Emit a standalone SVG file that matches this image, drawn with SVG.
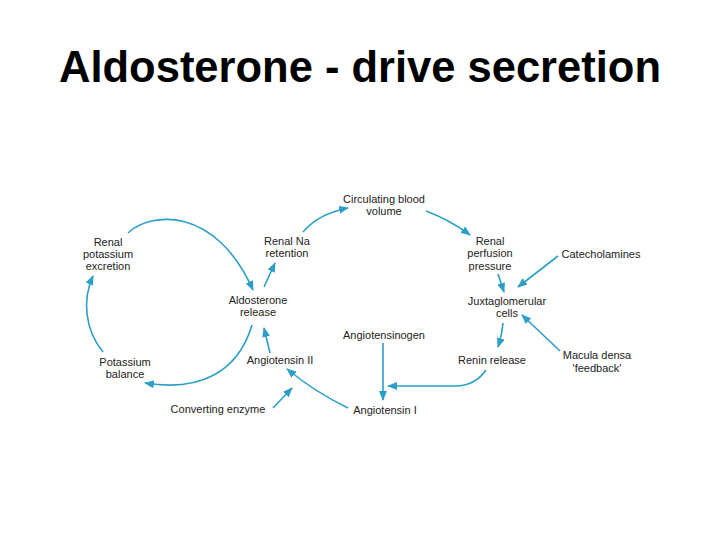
<svg xmlns="http://www.w3.org/2000/svg" width="720" height="540" viewBox="0 0 720 540">
<defs>
<style>
.t{font-family:"Liberation Sans",Arial,sans-serif;font-size:11px;fill:#222;text-anchor:middle}
.title{font-family:"Liberation Sans",Arial,sans-serif;font-size:43.5px;font-weight:bold;fill:#000;text-anchor:middle}
.c{fill:none;stroke:#2b9fc6;stroke-width:1.6;marker-end:url(#ah)}
</style>
<marker id="ah" viewBox="0 0 10 8" refX="9" refY="4" markerWidth="10" markerHeight="8" markerUnits="userSpaceOnUse" orient="auto">
<path d="M0,0 L10,4 L0,8 z" fill="#2b9fc6"/>
</marker>
</defs>
<rect width="720" height="540" fill="#fff"/>
<text class="title" x="360" y="82">Aldosterone - drive secretion</text>
<g id="connectors">
<path class="c" d="M128,233 C150,212 215,205 253,290"/>
<path class="c" d="M264,287 L275,263"/>
<path class="c" d="M303,232 Q318,214 348,208"/>
<path class="c" d="M426,211 Q450,220 470,235"/>
<path class="c" d="M498,274 L504,292"/>
<path class="c" d="M558,256 L518,287"/>
<path class="c" d="M560,351 L522,315"/>
<path class="c" d="M503,323 Q502,335 498,347"/>
<path class="c" d="M486,370 Q475,386 455,386 L388,386"/>
<path class="c" d="M383,343 L383,400"/>
<path class="c" d="M348,408 Q315,392 287,369"/>
<path class="c" d="M273,408 L292,388"/>
<path class="c" d="M270,353 L264,328"/>
<path class="c" d="M252,325 C238,372 200,392 145,383"/>
<path class="c" d="M103,352 C85,330 82,300 93,276"/>
</g>
<g id="renal-potassium-excretion"><text class="t" x="108" y="246">Renal</text><text class="t" x="108" y="258">potassium</text><text class="t" x="108" y="270">excretion</text></g>
<g id="renal-na-retention"><text class="t" x="287" y="245">Renal Na</text><text class="t" x="287" y="257">retention</text></g>
<g id="aldosterone-release"><text class="t" x="258" y="304">Aldosterone</text><text class="t" x="258" y="316">release</text></g>
<g id="circulating-blood-volume"><text class="t" x="384" y="203">Circulating blood</text><text class="t" x="384" y="215">volume</text></g>
<g id="renal-perfusion-pressure"><text class="t" x="490" y="245">Renal</text><text class="t" x="490" y="257">perfusion</text><text class="t" x="490" y="270">pressure</text></g>
<g id="catecholamines"><text class="t" x="601" y="258">Catecholamines</text></g>
<g id="juxtaglomerular-cells"><text class="t" x="507" y="305">Juxtaglomerular</text><text class="t" x="507" y="317">cells</text></g>
<g id="angiotensinogen"><text class="t" x="384" y="339">Angiotensinogen</text></g>
<g id="renin-release"><text class="t" x="492" y="364">Renin release</text></g>
<g id="macula-densa"><text class="t" x="597" y="359">Macula densa</text><text class="t" x="597" y="372">'feedback'</text></g>
<g id="angiotensin-i"><text class="t" x="385" y="414">Angiotensin I</text></g>
<g id="potassium-balance"><text class="t" x="125" y="366">Potassium</text><text class="t" x="125" y="378">balance</text></g>
<g id="angiotensin-ii"><text class="t" x="280" y="364">Angiotensin II</text></g>
<g id="converting-enzyme"><text class="t" x="218" y="413">Converting enzyme</text></g>
</svg>
